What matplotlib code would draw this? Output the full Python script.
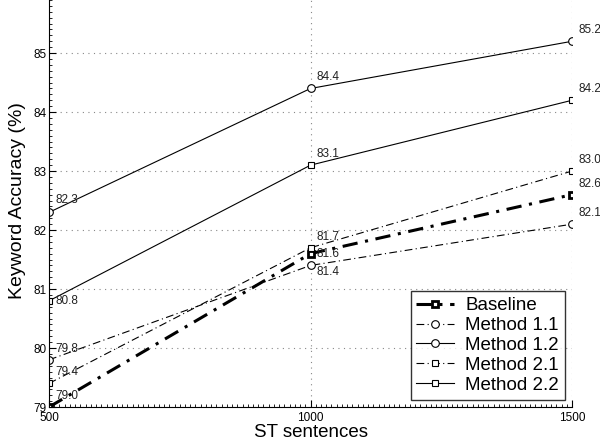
import numpy as np
import matplotlib.pyplot as plt
from matplotlib.ticker import MultipleLocator

plt.rcParams['font.family'] = ['Liberation Sans', 'DejaVu Sans']

sentences = [500, 1000, 1500]
baseline = [79.0, 81.6, 82.6]
method_11 = [79.8, 81.4, 82.1]
method_12 = [82.3, 84.4, 85.2]
method_21 = [79.4, 81.7, 83.0]
method_22 = [80.8, 83.1, 84.2]

# label offsets in pixels (dx, dy) of the text centre-left, per series and point
offsets = {
    'Baseline': [(6, 11), (6, 0), (6, 11)],
    'Method 1.1': [(6, 11), (6, -7), (6, 11)],
    'Method 1.2': [(6, 12), (6, 11), (6, 11)],
    'Method 2.1': [(6, 11), (6, 11), (6, 11)],
    'Method 2.2': [(6, 0), (6, 11), (6, 11)],
}

fig = plt.figure(figsize=(6, 4.44), dpi=100)
ax = fig.add_axes([0.0817, 0.0833, 0.8717, 0.93])

series = [
    ('Baseline', baseline, dict(ls=(0, (5, 2.5, 1, 2.5)), lw=2.2, marker='s', ms=5, mew=2.0)),
    ('Method 1.1', method_11, dict(ls=(0, (7, 3, 1, 3)), lw=0.8, marker='o', ms=5.5, mew=0.8)),
    ('Method 1.2', method_12, dict(ls='-', lw=0.8, marker='o', ms=5.5, mew=0.8)),
    ('Method 2.1', method_21, dict(ls=(0, (7, 3, 1, 3)), lw=0.8, marker='s', ms=4.5, mew=0.8)),
    ('Method 2.2', method_22, dict(ls='-', lw=0.8, marker='s', ms=4.5, mew=0.8)),
]

for name, vals, style in series:
    ax.plot(sentences, vals, color='k', mfc='white', mec='k', label=name, **style)
    for (x, y), off in zip(zip(sentences, vals), offsets[name]):
        ax.annotate(f'{y:.1f}', (x, y), xytext=off, textcoords='offset pixels',
                    fontsize=8.5, color='#222222', ha='left', va='center')

ax.set_xlim(500, 1500)
ax.set_ylim(79, 86)
ax.set_xticks(sentences)
ax.set_yticks(range(79, 86))
ax.xaxis.set_minor_locator(MultipleLocator(10))
ax.yaxis.set_minor_locator(MultipleLocator(0.1))
ax.tick_params(which='both', direction='in', labelsize=8.5)
ax.tick_params(which='major', length=5)
ax.tick_params(which='minor', length=2)
ax.tick_params(axis='y', pad=2)
ax.grid(True, which='major', ls=(0, (1, 4)), color='#888888', lw=0.8)
for s in ['top', 'right']:
    ax.spines[s].set_visible(False)

ax.set_xlabel('ST sentences', fontsize=13.5, labelpad=0)
ax.set_ylabel('Keyword Accuracy (%)', fontsize=14, labelpad=5)

leg = ax.legend(loc='lower right', fontsize=13.5, frameon=True, fancybox=False,
                edgecolor='k', handlelength=2.0, borderpad=0.3, labelspacing=0.15,
                handletextpad=0.6, borderaxespad=0.4)
leg.get_frame().set_linewidth(1.0)

fig.savefig('out.png', dpi=100)
